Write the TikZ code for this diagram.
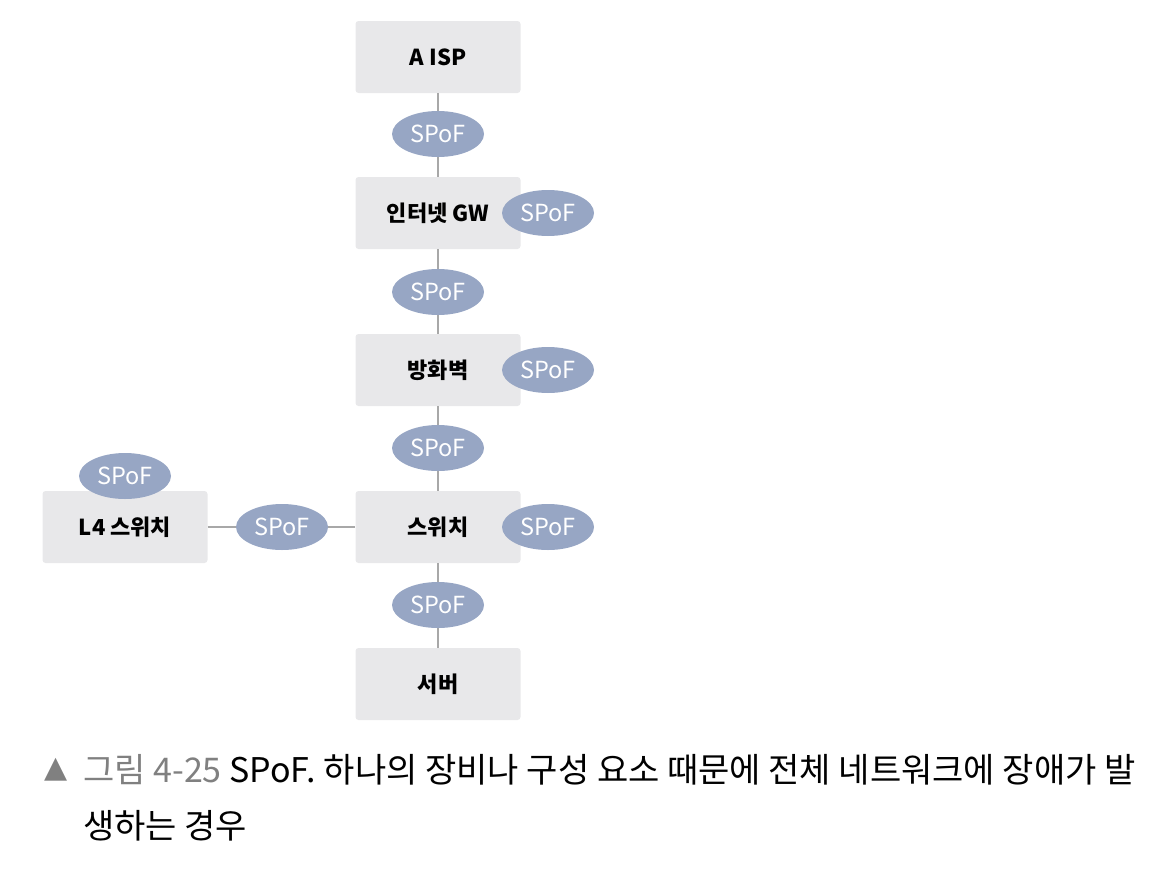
\documentclass[tikz,border=0pt]{standalone}
\usepackage{fontspec}
\usepackage{tikz}
\usetikzlibrary{shapes.geometric}
\setmainfont{Noto Sans CJK KR}
\definecolor{boxgray}{HTML}{E8E8EA}
\definecolor{spofblue}{HTML}{97A6C4}
\definecolor{linegray}{HTML}{A8A8A8}
\definecolor{capgray}{HTML}{808080}

\begin{document}
\begin{tikzpicture}[x=1pt,y=-1pt,
  devbox/.style={fill=boxgray,rounded corners=3pt,minimum width=165pt,minimum height=72pt,
    inner sep=0pt,font=\fontsize{22}{26}\selectfont\bfseries},
  spof/.style={ellipse,fill=spofblue,text=white,minimum width=92pt,minimum height=46pt,
    inner sep=0pt,font=\fontsize{23.5}{26}\selectfont},
  link/.style={linegray,line width=1.2pt},
  captext/.style={anchor=west,inner sep=0pt,font=\fontsize{34}{40}\selectfont}]
\useasboundingbox (0,0) rectangle (1169,870);
% Devices
\node[devbox] (isp) at (438,57) {A ISP};
\node[devbox] (gw) at (438,213) {인터넷 GW};
\node[devbox] (fw) at (438,370) {방화벽};
\node[devbox] (sw) at (438,527) {스위치};
\node[devbox] (srv) at (438,684) {서버};
\node[devbox] (l4) at (125,527) {L4 스위치};
% Links
\draw[link] (isp) -- (gw);
\draw[link] (gw) -- (fw);
\draw[link] (fw) -- (sw);
\draw[link] (sw) -- (srv);
\draw[link] (l4) -- (sw);
% SPoF marks
\node[spof] (s1) at (438,134) {SPoF};
\node[spof] (s2) at (438,292) {SPoF};
\node[spof] (s3) at (438,448) {SPoF};
\node[spof] (s4) at (438,605) {SPoF};
\node[spof] (s5) at (282,527) {SPoF};
\node[spof] (gwspof) at (548,213) {SPoF};
\node[spof] (fwspof) at (548,370) {SPoF};
\node[spof] (swspof) at (548,527) {SPoF};
\node[spof] (l4spof) at (125,476) {SPoF};
% Caption
\node[captext,text=capgray,font=\fontsize{30}{36}\fontspec{DejaVu Sans}] (tri) at (44,770) {▲};
\node[captext] (cap1) at (83,770)
  {\textcolor{capgray}{그림 4-25} SPoF. 하나의 장비나 구성 요소 때문에 전체 네트워크에 장애가 발};
\node[captext] (cap2) at (83,826) {생하는 경우};
\end{tikzpicture}
\end{document}
